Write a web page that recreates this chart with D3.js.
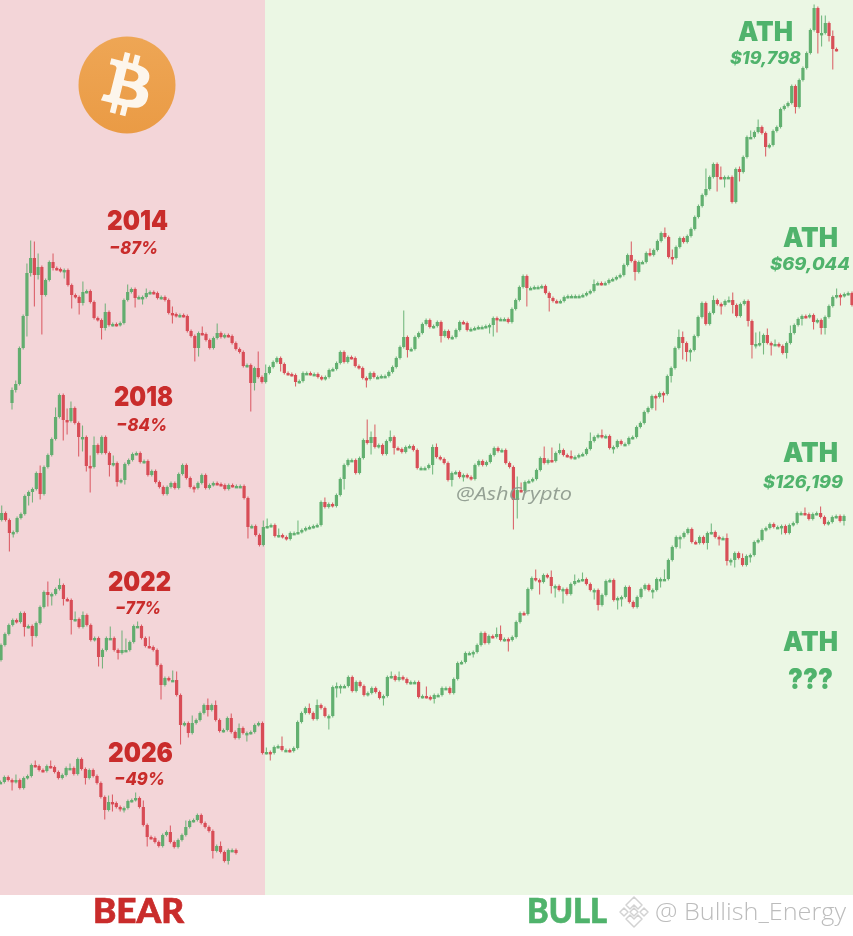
<!DOCTYPE html>
<html>
<head>
<meta charset="utf-8">
<style>
  html, body { margin: 0; padding: 0; background: #fff; }
  svg { display: block; }
  text { font-family: "Inter", "Open Sans", sans-serif; }
</style>
</head>
<body>
<div id="chart"></div>
<script src="https://cdn.jsdelivr.net/npm/d3@7"></script>
<script>
// Candle closes on one shared price index, each candle opens at the previous close
const open2014 = 492;
const closes2014 = [505,511,547,579,622,637,620,628,600,615,633,627,626,624,625,610,600,598,592,603,604,593,577,575,567,583,570,571,570,572,595,603,606,597,598,598,602,603,602,597,598,595,582,581,579,580,579,564,559,547,562,561,555,547,557,562,558,560,559,552,546,543,529,530,512,527,518,513,
  522,528,533,537,531,522,521,520,513,514,522,522,521,521,518,516,518,525,526,532,543,533,538,537,529,527,517,516,522,518,518,519,519,523,528,537,548,558,545,546,558,562,571,575,568,569,573,559,564,557,558,565,573,572,565,566,567,568,568,569,570,577,576,576,576,573,586,595,608,619,607,607,608,608,609,602,597,594,593,594,598,599,599,599,599,600,602,604,611,612,611,612,615,616,618,620,630,640,634,623,633,633,642,640,645,654,662,658,638,637,648,657,653,659,666,678,689,700,706,718,731,718,717,718,718,693,726,723,738,758,758,763,768,762,748,750,764,768,786,789,792,809,788,815,827,842,865,887,862,862,872,859,846,845];
// [candle, extra wick above, extra wick below]
const wicks2014 = [[0,1,5],[1,2,1],[4,8,19],[5,16,2],[6,15,30],[7,12,3],[8,0,38],[11,7,1],[14,0,6],[16,0,12],[18,0,10],[19,9,1],[24,0,10],[25,7,1],[31,6,0],[33,0,8],[35,0,6],[36,3,0],[43,5,8],[49,0,12],[50,0,7],[51,5,0],[55,8,0],[64,0,27],[65,0,6],[66,15,0],[68,7,0],[72,0,6],[76,0,3],[95,0,7],[105,25,0],[106,0,6],[115,0,5],[128,0,6],[129,0,10],[130,0,12],[138,0,17],[144,0,12],[156,3,0],[166,12,0],[167,0,7],[171,3,0],[175,4,0],[177,6,5],[186,19,0],[189,0,13],[190,9,0],[191,0,8],[195,1,8],[198,5,0],[200,6,0],[202,0,8],[210,0,5],[215,2,0],[216,0,19],[217,16,12],[218,6,0],[219,0,4],[220,4,19]];

const open2018 = 375;
const closes2018 = [382,375,362,363,377,381,399,403,406,422,401,428,440,456,478,500,475,474,487,472,458,458,429,428,450,442,458,442,430,432,413,415,431,435,441,442,433,434,420,424,413,408,401,408,412,407,421,430,417,408,407,412,420,407,410,412,411,410,406,410,409,409,409,397,368,369,360,350,368,369,370,359,360,358,356,362,362,363,365,367,368,369,370,393,388,391,389,400,416,430,435,435,422,437,455,452,458,448,450,441,454,458,447,446,443,448,449,445,427,427,427,430,448,438,436,432,415,422,423,418,420,418,416,430,434,430,433,440,447,444,445,432,428,395,405,404,413,414,416,425,437,432,435,434,442,445,440,439,437,438,440,441,446,454,458,460,458,459,447,448,454,451,451,457,458,468,472,483,487,499,498,502,501,519,527,547,558,552,543,545,559,578,592,571,582,595,591,590,594,595,590,579,591,594,574,550,551,552,560,552,551,551,549,542,552,562,570,576,579,578,580,573,575,567,578,589,598,600,599,601,602,590];
const wicks2018 = [[0,6,0],[2,0,17],[3,0,3],[7,0,8],[8,0,9],[10,6,4],[14,8,0],[16,0,19],[17,10,12],[18,5,0],[20,0,18],[21,10,13],[22,0,4],[23,9,24],[24,7,0],[28,0,10],[29,6,0],[30,0,3],[32,0,3],[50,0,3],[64,0,10],[68,5,0],[69,6,0],[72,5,0],[77,10,0],[84,3,0],[89,0,9],[95,19,0],[96,4,10],[97,11,0],[101,5,0],[102,0,5],[112,1,8],[113,2,0],[117,0,5],[120,0,3],[133,0,28],[134,12,17],[135,6,0],[141,10,0],[143,11,0],[145,5,0],[148,4,0],[153,7,0],[156,4,0],[159,0,4],[170,0,12],[172,0,7],[174,0,5],[176,6,0],[177,4,15],[178,0,8],[179,0,8],[185,3,0],[187,0,8],[189,2,0],[190,6,7],[194,0,4],[195,0,12],[196,10,2],[197,10,1],[198,0,10],[199,5,0],[200,0,10],[201,3,0],[204,0,4],[205,6,0],[208,0,5],[211,0,6],[213,0,5],[214,0,5],[217,5,0],[218,0,8]];

const open2022 = 235;
const closes2022 = [250,261,270,275,273,282,268,269,259,272,288,303,300,301,306,310,296,295,275,276,268,280,270,255,257,238,245,257,257,245,242,245,245,253,269,269,257,249,248,245,230,210,217,215,215,200,170,172,162,172,175,182,190,185,190,175,164,165,177,163,157,167,162,162,163,170,172,142,143,142,148,149,145,145,144,147,173,182,187,182,176,190,187,179,179,208,209,209,209,218,204,213,209,200,202,207,203,197,199,218,219,215,218,216,212,213,213,198,199,198,196,200,200,207,207,202,216,232,233,242,242,243,250,262,252,259,258,261,255,256,255,258,273,282,281,306,317,315,313,320,318,309,309,305,306,301,311,314,315,316,311,305,305,290,300,314,315,295,297,298,308,293,288,298,306,310,305,305,316,316,316,335,348,358,358,362,366,353,352,358,352,362,363,358,357,357,334,335,342,337,330,339,340,353,355,365,367,371,368,368,369,362,370,372,382,382,381,376,381,382,378,371,373,378,379,374,379];
const wicks2022 = [[6,0,8],[8,0,9],[12,9,10],[13,0,9],[15,5,0],[16,0,5],[18,0,13],[19,6,0],[21,2,0],[25,0,8],[26,0,10],[28,10,0],[30,0,5],[31,18,0],[32,10,0],[35,3,0],[38,8,0],[41,0,13],[44,8,0],[45,7,0],[46,0,18],[48,0,3],[49,6,0],[53,5,5],[55,3,0],[59,3,0],[61,3,0],[63,0,7],[68,3,0],[69,0,6],[72,8,0],[79,3,0],[81,4,0],[84,0,12],[86,2,9],[87,0,6],[98,0,6],[100,3,0],[102,4,0],[109,8,0],[111,0,3],[121,0,3],[127,5,0],[128,7,0],[130,0,10],[137,7,0],[138,0,11],[141,5,6],[142,0,10],[144,0,12],[147,5,0],[149,5,0],[152,0,8],[153,0,4],[158,0,8],[159,0,7],[167,0,7],[169,0,7],[170,8,0],[174,0,10],[181,0,5],[182,7,0],[184,0,6],[186,3,3],[187,0,3],[188,0,6],[190,3,0],[192,0,5],[200,0,6],[206,4,0],[210,5,0],[216,0,3],[217,8,0]];

const open2026 = 113;
const closes2026 = [113,118,115,113,115,107,117,119,130,129,125,124,129,128,123,117,120,127,127,121,136,126,117,125,119,112,98,85,93,92,88,87,87,94,95,97,88,70,58,57,53,49,60,63,53,48,55,60,68,74,75,80,72,68,64,44,49,43,34,45,45,42];
const wicks2026 = [[3,0,7],[4,4,0],[9,3,0],[13,4,0],[18,3,0],[22,0,5],[27,0,8],[28,5,0],[29,6,7],[31,0,2],[32,0,3],[35,4,0],[37,5,0],[38,0,8],[44,5,0],[48,5,0],[55,0,6],[57,3,0],[59,0,2]];

const years = ["2014", "2018", "2022", "2026"];
const drops = ["−87%", "−84%", "−77%", "−49%"];
const athLabels = ["$19,798", "$69,044", "$126,199", "???"];
const sides = ["BEAR", "BULL"];

const width = 853;
const height = 936;
const panelBottom = 895;
const splitX = 265;

const red = "#d6414c";
const green = "#55a966";
const textRed = "#c92c2b";
const textGreen = "#50b36c";

const svg = d3.select("#chart").append("svg")
  .attr("width", width)
  .attr("height", height)
  .attr("viewBox", `0 0 ${width} ${height}`);

const defs = svg.append("defs");
defs.append("filter").attr("id", "soft")
  .attr("filterUnits", "userSpaceOnUse")
  .attr("x", 0).attr("y", 0).attr("width", width).attr("height", height)
  .append("feGaussianBlur").attr("stdDeviation", 0.4);

const coinGradient = defs.append("linearGradient").attr("id", "coin")
  .attr("x1", "0%").attr("y1", "0%").attr("x2", "0%").attr("y2", "100%");
coinGradient.append("stop").attr("offset", "0%").attr("stop-color", "#eea655");
coinGradient.append("stop").attr("offset", "100%").attr("stop-color", "#ea9b45");

// Backgrounds
svg.append("rect").attr("width", width).attr("height", height).attr("fill", "#fff");
svg.append("rect").attr("width", splitX).attr("height", panelBottom).attr("fill", "#f3d5d8");
svg.append("rect").attr("x", splitX).attr("width", width - splitX).attr("height", panelBottom).attr("fill", "#ebf7e4");

// Same price scale for all four cycles
const y = d3.scaleLinear().domain([0, panelBottom]).range([panelBottom, 0]);

const cycles = [
  { first: open2014, closes: closes2014, wicks: wicks2014, xRange: [12, 836.5] },
  { first: open2018, closes: closes2018, wicks: wicks2018, xRange: [1.7, 852] },
  { first: open2022, closes: closes2022, wicks: wicks2022, xRange: [1, 844] },
  { first: open2026, closes: closes2026, wicks: wicks2026, xRange: [0.5, 236] },
];

function toCandles(cycle) {
  const up = new Map(cycle.wicks.map((w) => [w[0], w[1]]));
  const down = new Map(cycle.wicks.map((w) => [w[0], w[2]]));
  return cycle.closes.map((close, i) => {
    const open = i === 0 ? cycle.first : cycle.closes[i - 1];
    return {
      i,
      open,
      close,
      high: Math.max(open, close) + (up.get(i) || 0) + 1.5,
      low: Math.min(open, close) - (down.get(i) || 0) - 1.5,
    };
  });
}

const candleLayer = svg.append("g").attr("filter", "url(#soft)").attr("opacity", 0.92);

cycles.forEach((cycle) => {
  const candles = toCandles(cycle);
  const x = d3.scaleLinear().domain([0, candles.length - 1]).range(cycle.xRange);
  const colour = (d) => (d.close < d.open ? red : green);

  const g = candleLayer.append("g");
  g.selectAll("line").data(candles).join("line")
    .attr("x1", (d) => x(d.i)).attr("x2", (d) => x(d.i))
    .attr("y1", (d) => y(d.high)).attr("y2", (d) => y(d.low))
    .attr("stroke", colour)
    .attr("stroke-width", 1.1)
    .attr("opacity", 0.85);
  g.selectAll("rect").data(candles).join("rect")
    .attr("x", (d) => x(d.i) - 1.6)
    .attr("width", 3.2)
    .attr("y", (d) => y(Math.max(d.open, d.close)))
    .attr("height", (d) => Math.max(2.4, Math.abs(y(d.open) - y(d.close))))
    .attr("fill", colour);
});

// Bitcoin coin
const coin = svg.append("g").attr("transform", "translate(127,85)");
coin.append("circle").attr("r", 48.5).attr("fill", "url(#coin)");
coin.append("path")
  .attr("transform", "scale(1.58) translate(-32,-32)")
  .attr("fill", "#fdf6ec")
  .attr("d", "M46.1 27.44c.64-4.26-2.61-6.55-7.05-8.08l1.44-5.78-3.52-.88-1.4 5.63c-.93-.23-1.88-.45-2.83-.66l1.41-5.67-3.52-.88-1.44 5.78c-.77-.18-1.52-.35-2.25-.53l0-.02-4.85-1.21-.94 3.76s2.61.6 2.56.64c1.43.36 1.68 1.3 1.64 2.05l-1.64 6.59c.1.02.22.06.36.12-.12-.03-.24-.06-.37-.09l-2.3 9.23c-.17.43-.62 1.08-1.61.83.03.05-2.56-.64-2.56-.64l-1.75 4.03 4.58 1.14c.85.21 1.69.44 2.51.65l-1.46 5.84 3.52.88 1.44-5.78c.96.26 1.9.5 2.81.73l-1.44 5.75 3.52.88 1.46-5.83c6.01 1.14 10.53.68 12.43-4.76 1.53-4.38-.08-6.9-3.24-8.55 2.3-.53 4.04-2.05 4.5-5.18zm-8.05 11.29c-1.09 4.38-8.46 2.01-10.85 1.42l1.94-7.77c2.39.6 10.05 1.78 8.91 6.35zm1.09-11.35c-.99 3.98-7.13 1.96-9.12 1.46l1.75-7.05c1.99.5 8.41 1.43 7.37 5.59z");

// Small helper so every label is fitted to its width in the picture
function label(t, x, base, size, w, fill, opts = {}) {
  return svg.append("text")
    .attr("x", x).attr("y", base)
    .attr("font-size", size)
    .attr("font-weight", opts.weight || 800)
    .attr("font-style", opts.italic ? "italic" : "normal")
    .style("font-family", opts.font || null)
    .attr("textLength", w)
    .attr("lengthAdjust", "spacingAndGlyphs")
    .attr("fill", fill)
    .attr("opacity", opts.opacity || 1)
    .text(t);
}

// Year and drawdown labels
const yearSpots = [[107, 230, 61], [114, 406, 59], [108, 590.5, 63], [108, 762, 65]];
const dropSpots = [[109, 254, 49], [116, 431, 51], [115, 614, 46], [114, 785, 51]];
years.forEach((t, i) => label(t, yearSpots[i][0], yearSpots[i][1], 27.5, yearSpots[i][2], textRed, { weight: 900 }));
drops.forEach((t, i) => label(t, dropSpots[i][0], dropSpots[i][1], i === 2 ? 17 : 18, dropSpots[i][2], textRed, { italic: true }));

// ATH labels
const athSpots = [[738, 41], [783, 247], [783, 462], [783, 651]];
athSpots.forEach((s) => label("ATH", s[0], s[1], 27.5, 55, textGreen, { weight: 900 }));
const priceSpots = [[730, 64, 71, 17], [770, 270, 80, 17], [763, 488, 80, 17]];
athLabels.slice(0, 3).forEach((t, i) => label(t, priceSpots[i][0], priceSpots[i][1], priceSpots[i][3], priceSpots[i][2], textGreen, { italic: true }));
label(athLabels[3], 788, 689, 29, 45, textGreen, { weight: 900 });

// Bottom strip
label(sides[0], 93, 923, 35, 91, textRed, { font: "Lato", weight: 900 }).attr("stroke", textRed).attr("stroke-width", 0.7);
label(sides[1], 527, 923, 35, 80, textGreen, { font: "Lato", weight: 900 }).attr("stroke", textGreen).attr("stroke-width", 0.7);

// Watermarks
label("@AshCrypto", 456, 500, 19, 116, "#8b978b", { italic: true, weight: 400, font: "Open Sans", opacity: 0.9 });
label("@ Bullish_Energy", 655, 920, 24, 191, "#bcbcbc", { weight: 300, font: "Open Sans" });

// Exchange mark next to the handle: centre diamond, two sides, two chevrons
const mark = svg.append("g")
  .attr("transform", "translate(634,912)")
  .attr("fill", "none")
  .attr("stroke", "#d2d2d2")
  .attr("stroke-width", 1.5)
  .attr("stroke-linejoin", "round");
mark.append("path").attr("d", "M0,-4 L4,0 L0,4 L-4,0 Z");
mark.append("path").attr("d", "M-10,-4 L-6,0 L-10,4 L-14,0 Z");
mark.append("path").attr("d", "M10,-4 L14,0 L10,4 L6,0 Z");
mark.append("path").attr("d", "M-8,-7 L0,-15 L8,-7 L4,-3 L0,-7 L-4,-3 Z");
mark.append("path").attr("d", "M-8,7 L0,15 L8,7 L4,3 L0,7 L-4,3 Z");
</script>
</body>
</html>
